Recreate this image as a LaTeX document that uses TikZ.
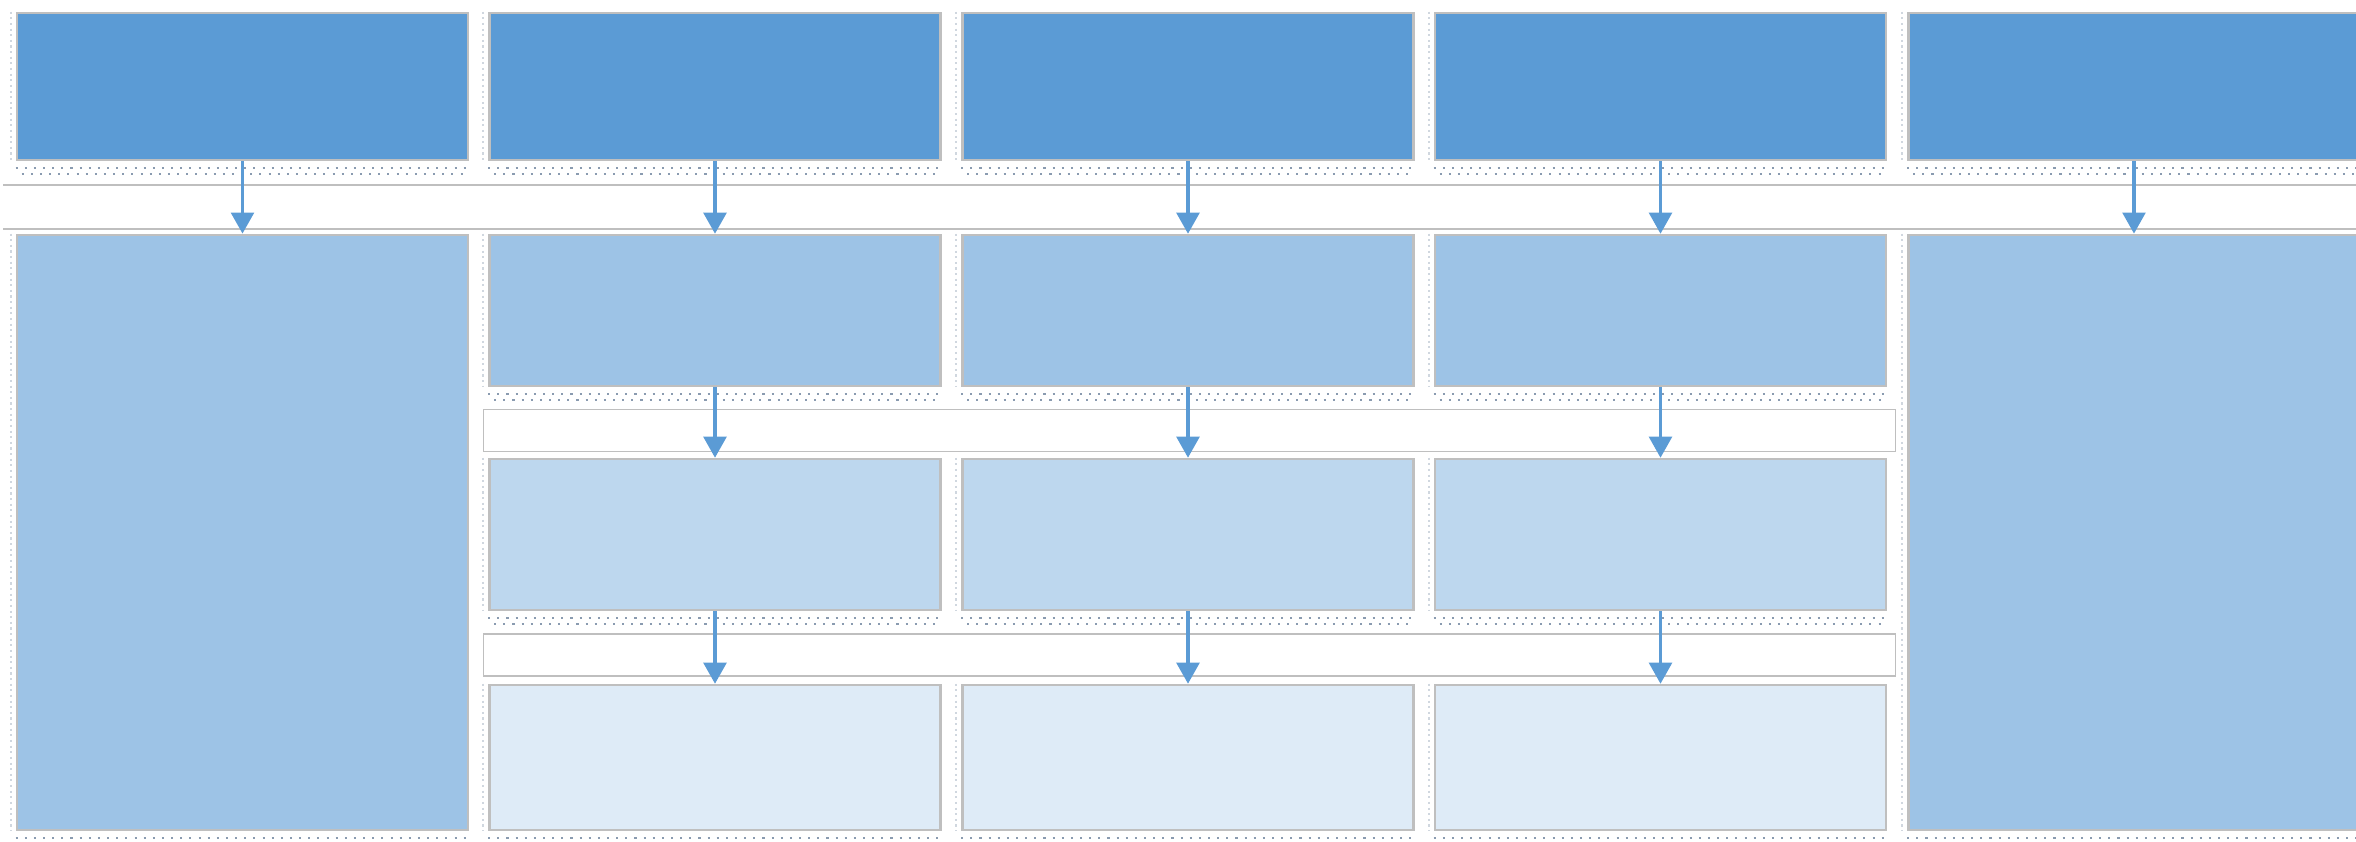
\documentclass[tikz,border=0pt]{standalone}
\usetikzlibrary{arrows.meta}
\definecolor{blueA}{HTML}{5B9BD5}
\definecolor{blueB}{HTML}{9DC3E6}
\definecolor{blueC}{HTML}{BDD7EE}
\definecolor{blueD}{HTML}{DEEBF7}
\definecolor{edge}{HTML}{BFBFBF}
\definecolor{tick}{HTML}{8A9BB0}

\begin{document}
\begin{tikzpicture}[x=0.01cm,y=-0.01cm,
  box/.style={draw=edge,line width=0.7pt,minimum width=4.51cm,minimum height=1.51cm,inner sep=0pt},
  band/.style={draw=edge,line width=0.5pt,minimum height=0.42cm,inner sep=0pt},
  flow/.style={blueA,line width=0.9pt,-{Triangle[width=6.5pt,length=6pt]}},
  ticks/.style={dotted,tick,line width=0.6pt}]
  \useasboundingbox (0,0) rectangle (2356,842);

  % bands
  \node[band,draw=none,minimum width=24cm] (band1) at (1205,207) {};
  \draw[edge,line width=0.5pt] (band1.north west) -- (band1.north east)
    (band1.south west) -- (band1.south east);
  \node[band,minimum width=14.11cm] (band2) at (1189.5,430.5) {};
  \node[band,minimum width=14.11cm] (band3) at (1189.5,655) {};

  % top row
  \node[box,fill=blueA,minimum height=1.47cm] (t1) at (242.5,86.5) {};
  \node[box,fill=blueA,minimum height=1.47cm] (t2) at (715,86.5) {};
  \node[box,fill=blueA,minimum height=1.47cm] (t3) at (1188,86.5) {};
  \node[box,fill=blueA,minimum height=1.47cm] (t4) at (1660.5,86.5) {};
  \node[box,fill=blueA,minimum height=1.47cm] (t5) at (2134,86.5) {};

  % side columns
  \node[box,fill=blueB,minimum height=5.95cm] (l1) at (242.5,532.5) {};
  \node[box,fill=blueB,minimum height=5.95cm] (r5) at (2134,532.5) {};

  % inner rows
  \node[box,fill=blueB] (m2) at (715,310.5) {};
  \node[box,fill=blueB] (m3) at (1188,310.5) {};
  \node[box,fill=blueB] (m4) at (1660.5,310.5) {};
  \node[box,fill=blueC] (n2) at (715,534.5) {};
  \node[box,fill=blueC] (n3) at (1188,534.5) {};
  \node[box,fill=blueC] (n4) at (1660.5,534.5) {};
  \node[box,fill=blueD,minimum height=1.45cm] (b2) at (715,757.5) {};
  \node[box,fill=blueD,minimum height=1.45cm] (b3) at (1188,757.5) {};
  \node[box,fill=blueD,minimum height=1.45cm] (b4) at (1660.5,757.5) {};

  \foreach \n in {t1,t2,t3,t4,t5,l1,r5,m2,m3,m4,n2,n3,n4,b2,b3,b4} {
    \draw[ticks] ([yshift=-0.07cm]\n.south west) -- ([yshift=-0.07cm]\n.south east);
    \draw[ticks] ([yshift=-0.13cm,xshift=0.06cm]\n.south west) -- ([yshift=-0.13cm]\n.south east);
    \draw[ticks,densely dotted,tick!40] ([xshift=-0.05cm]\n.north west) -- ([xshift=-0.05cm]\n.south west);
  }

  % arrows
  \draw[flow] (t1) -- (l1);
  \draw[flow] (t2) -- (m2);
  \draw[flow] (t3) -- (m3);
  \draw[flow] (t4) -- (m4);
  \draw[flow] (t5) -- (r5);
  \draw[flow] (m2) -- (n2);
  \draw[flow] (m3) -- (n3);
  \draw[flow] (m4) -- (n4);
  \draw[flow] (n2) -- (b2);
  \draw[flow] (n3) -- (b3);
  \draw[flow] (n4) -- (b4);
\end{tikzpicture}
\end{document}
